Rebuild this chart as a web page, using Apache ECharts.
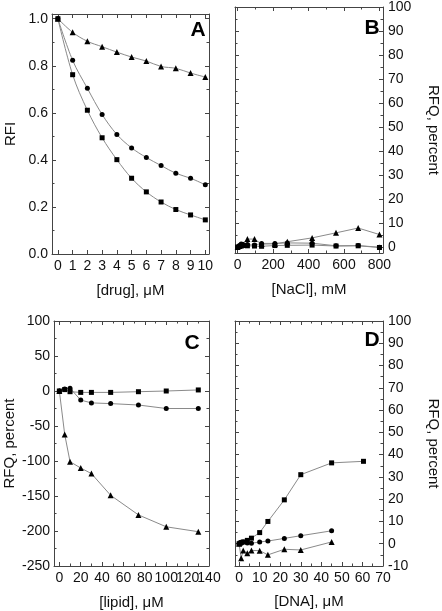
<!DOCTYPE html>
<html><head><meta charset="utf-8">
<script src="https://cdn.jsdelivr.net/npm/echarts@6/dist/echarts.min.js"></script>
<style>html,body{margin:0;padding:0;background:#fff}#c{width:442px;height:611px}</style>
</head><body><div id="c"></div>
<script>
// Panel A: RFI vs [drug]
const drugX = [0,1,2,3,4,5,6,7,8,9,10];
const drugTri = [1.0,0.942,0.904,0.881,0.858,0.837,0.82,0.797,0.789,0.769,0.752];
const drugCir = [1.0,0.823,0.704,0.593,0.508,0.451,0.41,0.376,0.343,0.322,0.294];
const drugSq  = [1.0,0.762,0.611,0.494,0.401,0.322,0.264,0.221,0.189,0.166,0.145];
// Panel B: RFQ vs [NaCl]
const naclX   = [0,10,20,30,55,95,135,210,280,420,555,680,800];
const naclTri = [0,0.5,0.8,1,3.3,3.3,1.2,1.3,2.2,3.8,5.9,7.9,5.2];
const naclCir = [0,0.6,1.2,1.0,1.0,0.8,1.5,1.5,1.7,1.6,0.5,0.6,-0.1];
const naclSq  = [0,0.2,0.4,0.6,0.5,0.4,0.3,0.6,0.7,0.8,0.4,0.5,-0.2];
// Panel C: RFQ vs [lipid]
const lipidX   = [0,5,10,20,30,48,74,100,130];
const lipidSq  = [0,2,-1,-2,-2,-2,-1,0,1.5];
const lipidCir = [0,3,4,-13,-17,-18,-20,-25,-25];
const lipidTri = [0,-62,-101,-110,-118,-149,-177,-194,-201];
// Panel D: RFQ vs [DNA]
const dnaSqX = [0,0.5,1,2,4,6,10,14,22,30,45,60.5];
const dnaSq  = [0,0.2,0.5,0.8,1.5,2.5,5,10,19.7,31,36.3,37];
const dnaX   = [0,1,2,4,6,10,14,22,30,45];
const dnaCir = [0,0.5,0.8,0.3,0.2,0.8,1.2,2.4,3.6,5.8];
const dnaTri = [0,-6.5,-3,-4.3,-3,-3.1,-5,-2.5,-2.8,0.8];

const FONT = "'Liberation Sans', Arial, sans-serif";
const AXC = '#444';
const LINEC = '#8a8a8a';

function mult(v, step){ const r = v/step; return Math.abs(r - Math.round(r)) < 1e-6; }

function makeAxis(gi, o, main, labelFilter, bare){
  const ax = {
    type:'value', gridIndex:gi, min:o.min, max:o.max, splitNumber:o.split,
    position: main ? o.pos : o.opp,
    axisLine:{show:!bare, onZero:false, lineStyle:{color:AXC, width:1}},
    axisTick:{show:!bare, inside:true, length:4, lineStyle:{color:AXC}},
    minorTick:{show: !bare && !!o.minor, splitNumber:o.minor||2, length:2.5, lineStyle:{color:AXC}},
    splitLine:{show:false},
    axisLabel:{show:main, margin:o.margin, color:'#111', fontFamily:FONT, fontSize:14,
      showMinLabel:true, showMaxLabel:true, hideOverlap:false,
      formatter: v => (mult(v, o.step) && (!labelFilter || labelFilter(v))) ? (o.fmt ? o.fmt(v) : String(Math.round(v))) : ''},
  };
  if (o.interval) ax.interval = o.interval;
  if (main && !bare && o.name){
    ax.name = o.name; ax.nameLocation='middle'; ax.nameGap=o.nameGap;
    ax.nameTextStyle={fontFamily:FONT, fontSize:15, color:'#111'};
    if (o.nameRotate !== undefined) ax.nameRotate = o.nameRotate;
  }
  return ax;
}

const grids = [
  {left:52, top:14, width:157, height:240},
  {left:235, top:7, width:156, height:246},
  {left:54, top:321, width:155, height:246},
  {left:235, top:321, width:156, height:245},
];

const xOpts = [
  {min:-0.4, max:10.25, split:10, step:1, margin:5, pos:'bottom', opp:'top', name:'[drug], \u03bcM', nameGap:29},
  {min:-15, max:820, split:4, step:200, minor:2, margin:5, pos:'bottom', opp:'top', name:'[NaCl], mM', nameGap:29},
  {min:-5, max:140, split:7, step:20, minor:2, margin:5, pos:'bottom', opp:'top', name:'[lipid], \u03bcM', nameGap:29},
  {min:-2, max:70, split:7, step:10, minor:2, margin:5, pos:'bottom', opp:'top', name:'[DNA], \u03bcM', nameGap:28},
];
const yOpts = [
  {min:0, max:1.02, split:5, step:0.2, minor:2, margin:4, pos:'left', opp:'right', fmt:v=>v.toFixed(1), name:'RFI', nameGap:34, nameRotate:90},
  {min:-2.5, max:100, split:10, step:10, minor:2, margin:5, pos:'right', opp:'left', name:'RFQ, percent', nameGap:43, nameRotate:-90},
  {min:-250, max:100, interval:50, split:7, step:50, minor:2, margin:4, pos:'left', opp:'right', name:'RFQ, percent', nameGap:37, nameRotate:90},
  {min:-10, max:100, interval:10, split:11, step:10, minor:2, margin:5, pos:'right', opp:'left', name:'RFQ, percent', nameGap:43, nameRotate:-90},
];

const xAxis = [], yAxis = [];
for (let i=0;i<4;i++){
  const filt = i===2 ? (v => mult(v, 40)) : null;
  xAxis.push(makeAxis(i, xOpts[i], true, filt));
  xAxis.push(makeAxis(i, xOpts[i], false));
  yAxis.push(makeAxis(i, yOpts[i], true));
  yAxis.push(makeAxis(i, yOpts[i], false));
}
// second label layer for panel C x axis (crowded labels 100 120 140)
xAxis.push(makeAxis(2, xOpts[2], true, v => !mult(v, 40), true));

function pairs(xs, ys){ return xs.map((x,i)=>[x, ys[i]]); }
function ser(i, xs, ys, sym, size, smooth){
  return {type:'line', xAxisIndex:2*i, yAxisIndex:2*i, data:pairs(xs,ys),
    symbol:sym, symbolSize:size, showSymbol:true, smooth: smooth ? 0.35 : false,
    itemStyle:{color:'#000'}, lineStyle:{color:LINEC, width:1}, animation:false, z:3};
}
const TRI='triangle', CIR='circle', SQ='rect';
const series = [
  ser(0, drugX, drugTri, TRI, 6, true),
  ser(0, drugX, drugCir, CIR, 5, true),
  ser(0, drugX, drugSq, SQ, 5, true),
  ser(1, naclX, naclTri, TRI, 6),
  ser(1, naclX, naclCir, CIR, 5),
  ser(1, naclX, naclSq, SQ, 5),
  ser(2, lipidX, lipidSq, SQ, 5),
  ser(2, lipidX, lipidCir, CIR, 5),
  ser(2, lipidX, lipidTri, TRI, 6),
  ser(3, dnaSqX, dnaSq, SQ, 5),
  ser(3, dnaX, dnaCir, CIR, 5),
  ser(3, dnaX, dnaTri, TRI, 6),
];

const letters = [['A',198,30],['B',372,28],['C',192,343],['D',372,340]];
const graphic = letters.map(l=>({type:'text', x:l[1], y:l[2],
  style:{text:l[0], font:"bold 21px "+FONT, fill:'#000', textAlign:'center', textVerticalAlign:'middle'}}));

const chart = echarts.init(document.getElementById('c'), null, {renderer:'canvas'});
chart.setOption({animation:false, backgroundColor:'#fff', grid:grids, xAxis, yAxis, series, graphic});
</script></body></html>
